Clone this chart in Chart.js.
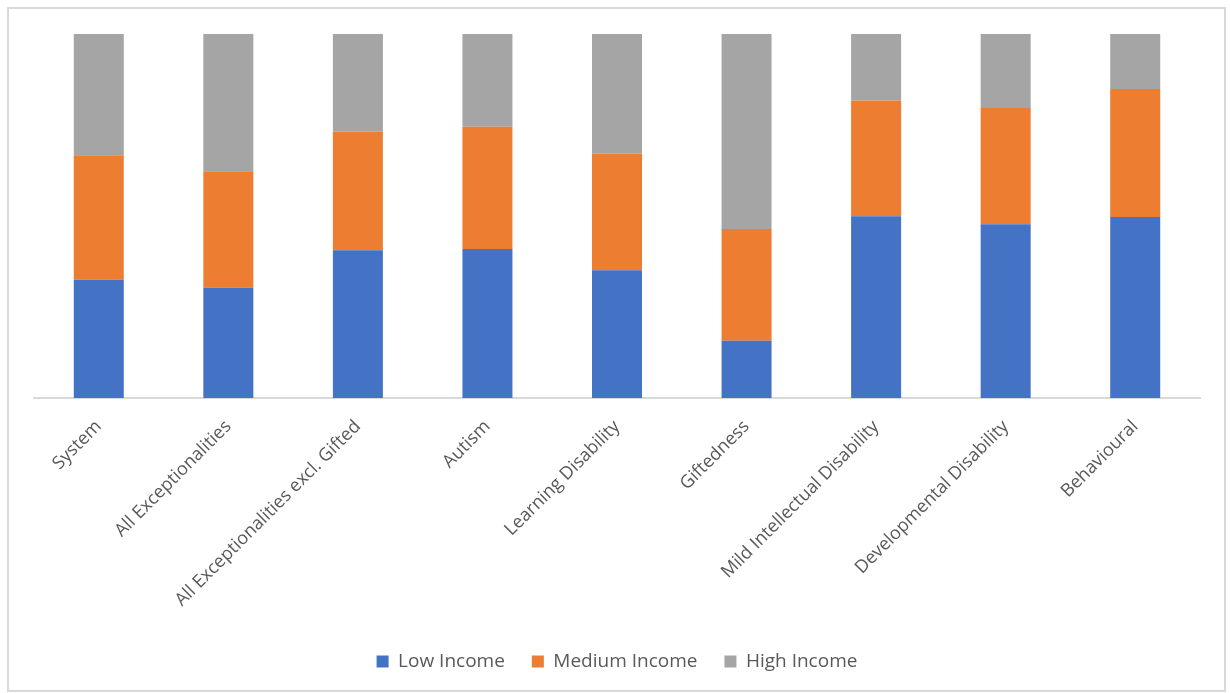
<!DOCTYPE html>
<html lang="en">
<head>
  <meta charset="UTF-8" />
  <title>Income Distribution by Exceptionality</title>
  <script src="https://cdn.jsdelivr.net/npm/chart.js"></script>
  <style>
    html, body {
      margin: 0;
      padding: 0;
      background: #fff;
    }
    .chart-box {
      position: relative;
      width: 1230px;
      height: 693px;
    }
    .frame {
      position: absolute;
      left: 7px;
      top: 7px;
      width: 1219px;
      height: 685px;
      box-sizing: border-box;
      border: 2px solid #d9d9d9;
      pointer-events: none;
    }
  </style>
</head>
<body>

  <div class="chart-box">
    <canvas id="incomeChart" width="1230" height="693"></canvas>
    <div class="frame"></div>
  </div>

  <script>
    // categories and share of students (%) per income group
    const categories = [
      'System',
      'All Exceptionalities',
      'All Exceptionalities excl. Gifted',
      'Autism',
      'Learning Disability',
      'Giftedness',
      'Mild Intellectual Disability',
      'Developmental Disability',
      'Behavioural'
    ];
    const lowIncome    = [32.5, 30.3, 40.6, 40.9, 35.1, 15.7, 49.9, 47.7, 49.7];
    const mediumIncome = [34.2, 32.0, 32.6, 33.6, 32.1, 30.7, 31.8, 32.0, 35.2];
    const highIncome   = [33.3, 37.7, 26.8, 25.5, 32.8, 53.6, 18.3, 20.3, 15.1];

    const textColor = '#595959';
    const fontFamily = '"Open Sans", "Liberation Sans", sans-serif';

    new Chart(document.getElementById('incomeChart'), {
      type: 'bar',
      data: {
        labels: categories,
        datasets: [
          {
            label: 'Low Income',
            data: lowIncome,
            backgroundColor: '#4472c4'
          },
          {
            label: 'Medium Income',
            data: mediumIncome,
            backgroundColor: '#ed7d31'
          },
          {
            label: 'High Income',
            data: highIncome,
            backgroundColor: '#a5a5a5'
          }
        ]
      },
      options: {
        responsive: false,
        animation: false,
        datasets: {
          bar: {
            categoryPercentage: 1,
            barPercentage: 0.386
          }
        },
        layout: {
          padding: { left: 34, right: 30, top: 34, bottom: 12 }
        },
        plugins: {
          tooltip: { enabled: false },
          legend: {
            position: 'bottom',
            labels: {
              color: textColor,
              font: { family: fontFamily, size: 19 },
              boxWidth: 12,
              boxHeight: 12,
              padding: 27
            }
          }
        },
        scales: {
          x: {
            stacked: true,
            grid: { display: false, drawTicks: false },
            border: { display: true, color: '#d9d9d9', width: 2 },
            ticks: {
              color: textColor,
              font: { family: fontFamily, size: 18 },
              maxRotation: 45,
              minRotation: 45,
              autoSkip: false,
              padding: 18
            },
            afterFit: (scale) => { scale.height = 227; }
          },
          y: {
            stacked: true,
            display: false,
            min: 0,
            max: 100
          }
        }
      }
    });
  </script>

</body>
</html>
